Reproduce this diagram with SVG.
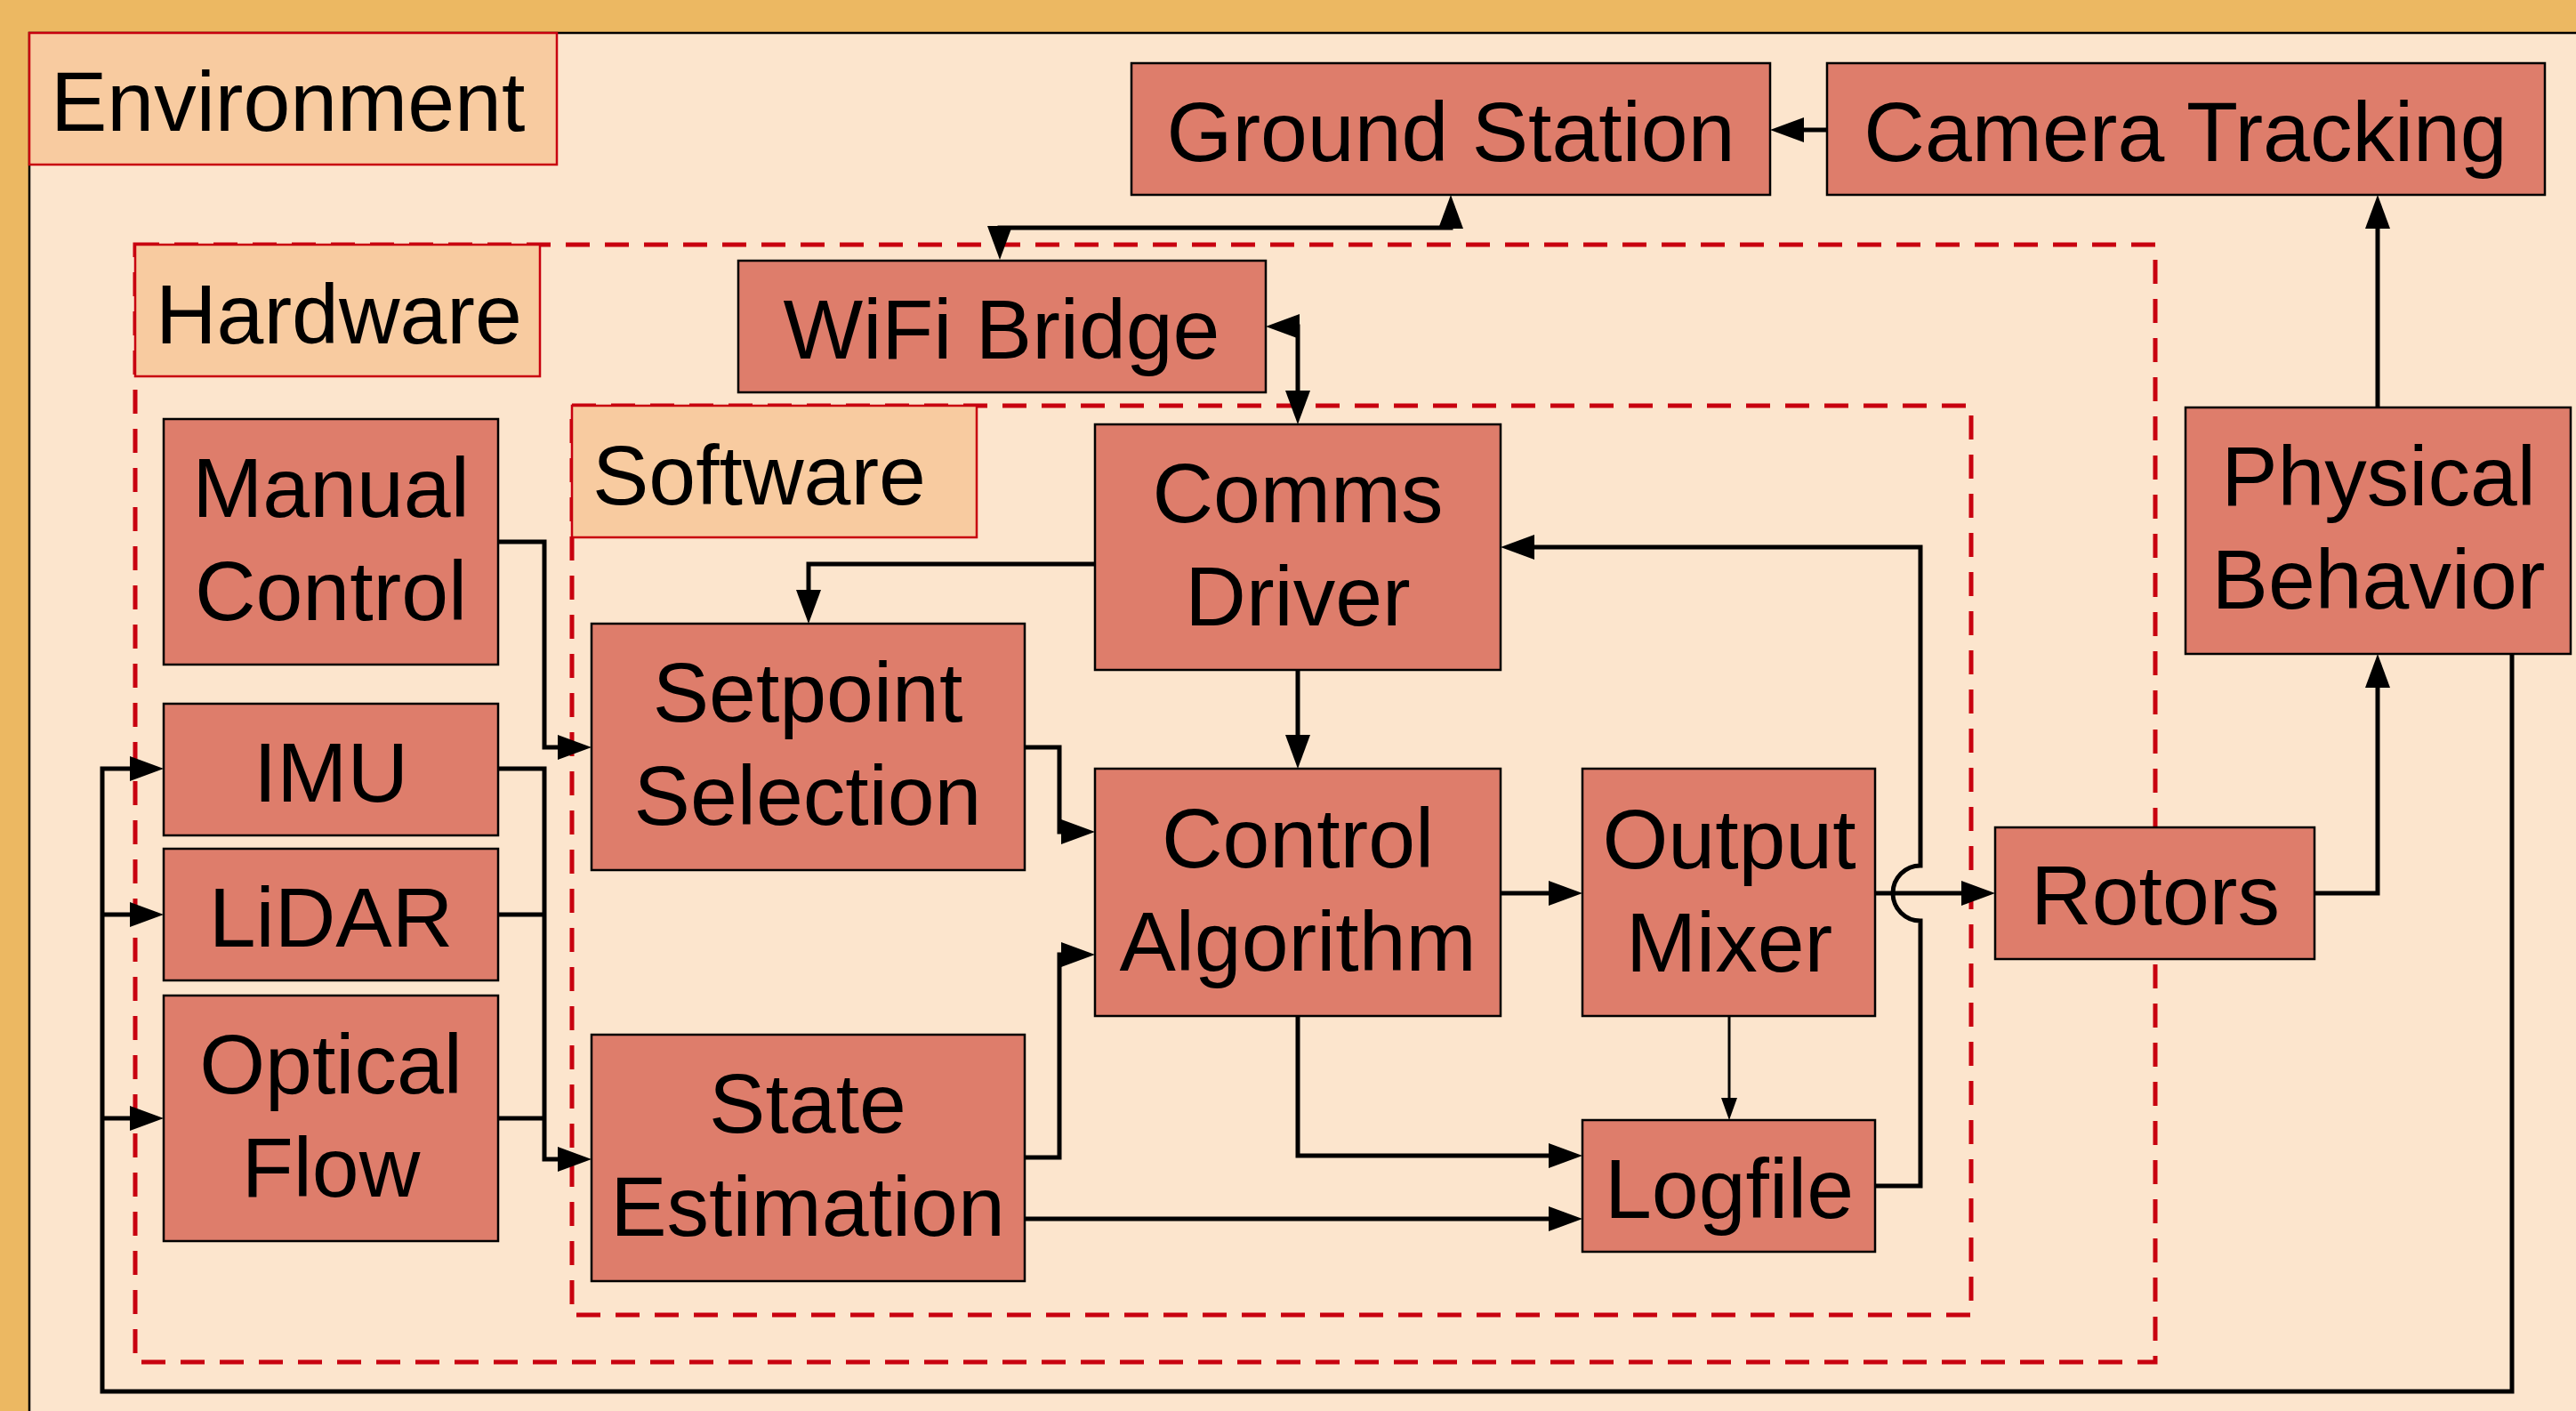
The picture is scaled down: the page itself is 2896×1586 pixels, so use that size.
<svg xmlns="http://www.w3.org/2000/svg" width="2896" height="1586" viewBox="0 0 2896 1586">
  <style>
    text { font-family: "Liberation Sans", Arial, Helvetica, sans-serif; font-size: 95px; fill: #000; }
    .node rect { fill: #DE7D6B; stroke: #000; stroke-width: 2.5; }
    .node text { text-anchor: middle; }
    .label rect { fill: #F8CBA0; stroke: #C8000F; stroke-width: 2.5; }
    .group { fill: none; stroke: #C8000F; stroke-width: 5; stroke-dasharray: 27 17; }
    .wire { fill: none; stroke: #000; stroke-width: 5; stroke-linejoin: miter; }
    .thin { fill: none; stroke: #000; stroke-width: 3; }
  </style>
  <defs>
    <marker id="arrow" markerUnits="userSpaceOnUse" markerWidth="40" markerHeight="30" refX="18" refY="14" orient="auto-start-reverse" viewBox="0 0 40 30">
      <path d="M0,0 L38,14 L0,28 Z" fill="#000"/>
    </marker>
    <marker id="arrowSmall" markerUnits="userSpaceOnUse" markerWidth="28" markerHeight="20" refX="12" refY="9" orient="auto" viewBox="0 0 28 20">
      <path d="M0,0 L25,9 L0,18 Z" fill="#000"/>
    </marker>
  </defs>

  <!-- page frame -->
  <rect x="0" y="0" width="2896" height="1586" fill="#ECB862"/>
  <rect x="33" y="37" width="2900" height="1600" fill="#FCE5CD" stroke="#000" stroke-width="2.5"/>

  <!-- grouping boxes -->
  <g id="environment-label" class="label">
    <rect x="33" y="37" width="593" height="148"/>
    <text x="57" y="147">Environment</text>
  </g>
  <rect id="hardware-group" class="group" x="152" y="275" width="2271" height="1256"/>
  <g id="hardware-label" class="label">
    <rect x="152" y="275" width="455" height="148"/>
    <text x="175" y="386">Hardware</text>
  </g>
  <rect id="software-group" class="group" x="643" y="456" width="1573" height="1022"/>
  <g id="software-label" class="label">
    <rect x="643" y="456" width="455" height="148"/>
    <text x="666" y="567">Software</text>
  </g>

  <!-- connectors -->
  <g id="connectors">
    <path class="wire" d="M2054,146 L2010,146" marker-end="url(#arrow)"/>
    <path class="wire" d="M1124,272 L1124,256 L1631,256 L1631,239" marker-start="url(#arrow)" marker-end="url(#arrow)"/>
    <path class="wire" d="M1443,367 L1459,367 L1459,457" marker-start="url(#arrow)" marker-end="url(#arrow)"/>
    <path class="wire" d="M1231,634 L909,634 L909,681" marker-end="url(#arrow)"/>
    <path class="wire" d="M1459,753 L1459,844" marker-end="url(#arrow)"/>
    <path class="wire" d="M560,609 L612,609 L612,840 L645,840" marker-end="url(#arrow)"/>
    <path class="wire" d="M560,864 L612,864 L612,1303 L645,1303" marker-end="url(#arrow)"/>
    <path class="wire" d="M560,1028 L612,1028"/>
    <path class="wire" d="M560,1257 L612,1257"/>
    <path class="wire" d="M1152,840 L1191,840 L1191,935 L1211,935" marker-end="url(#arrow)"/>
    <path class="wire" d="M1152,1301 L1191,1301 L1191,1073 L1211,1073" marker-end="url(#arrow)"/>
    <path class="wire" d="M1152,1370 L1759,1370" marker-end="url(#arrow)"/>
    <path class="wire" d="M1687,1004 L1759,1004" marker-end="url(#arrow)"/>
    <path class="wire" d="M1459,1142 L1459,1299 L1759,1299" marker-end="url(#arrow)"/>
    <path class="thin" d="M1944,1142 L1944,1246" marker-end="url(#arrowSmall)"/>
    <path class="wire" d="M2108,1004 L2223,1004" marker-end="url(#arrow)"/>
    <path class="wire" d="M2108,1333 L2159,1333 L2159,1035 A31,31 0 0 1 2159,973 L2159,615 L1707,615" marker-end="url(#arrow)"/>
    <path class="wire" d="M2602,1004 L2673,1004 L2673,755" marker-end="url(#arrow)"/>
    <path class="wire" d="M2673,458 L2673,239" marker-end="url(#arrow)"/>
    <path class="wire" d="M2824,735 L2824,1564 L115,1564 L115,864 L164,864" marker-end="url(#arrow)"/>
    <path class="wire" d="M115,1028 L164,1028" marker-end="url(#arrow)"/>
    <path class="wire" d="M115,1257 L164,1257" marker-end="url(#arrow)"/>
  </g>

  <!-- nodes -->
  <g id="ground-station" class="node">
    <rect x="1272" y="71" width="718" height="148"/>
    <text x="1631" y="181">Ground Station</text>
  </g>
  <g id="camera-tracking" class="node">
    <rect x="2054" y="71" width="807" height="148"/>
    <text x="2457" y="181">Camera Tracking</text>
  </g>
  <g id="wifi-bridge" class="node">
    <rect x="830" y="293" width="593" height="148"/>
    <text x="1126" y="403">WiFi Bridge</text>
  </g>
  <g id="manual-control" class="node">
    <rect x="184" y="471" width="376" height="276"/>
    <text x="372" y="581">Manual</text>
    <text x="372" y="697">Control</text>
  </g>
  <g id="imu" class="node">
    <rect x="184" y="791" width="376" height="148"/>
    <text x="372" y="901">IMU</text>
  </g>
  <g id="lidar" class="node">
    <rect x="184" y="954" width="376" height="148"/>
    <text x="372" y="1064">LiDAR</text>
  </g>
  <g id="optical-flow" class="node">
    <rect x="184" y="1119" width="376" height="276"/>
    <text x="372" y="1229">Optical</text>
    <text x="372" y="1345">Flow</text>
  </g>
  <g id="comms-driver" class="node">
    <rect x="1231" y="477" width="456" height="276"/>
    <text x="1459" y="587">Comms</text>
    <text x="1459" y="703">Driver</text>
  </g>
  <g id="setpoint-selection" class="node">
    <rect x="665" y="701" width="487" height="277"/>
    <text x="908" y="811">Setpoint</text>
    <text x="908" y="927">Selection</text>
  </g>
  <g id="state-estimation" class="node">
    <rect x="665" y="1163" width="487" height="277"/>
    <text x="908" y="1273">State</text>
    <text x="908" y="1389">Estimation</text>
  </g>
  <g id="control-algorithm" class="node">
    <rect x="1231" y="864" width="456" height="278"/>
    <text x="1459" y="975">Control</text>
    <text x="1459" y="1091">Algorithm</text>
  </g>
  <g id="output-mixer" class="node">
    <rect x="1779" y="864" width="329" height="278"/>
    <text x="1944" y="976">Output</text>
    <text x="1944" y="1092">Mixer</text>
  </g>
  <g id="logfile" class="node">
    <rect x="1779" y="1259" width="329" height="148"/>
    <text x="1944" y="1369">Logfile</text>
  </g>
  <g id="rotors" class="node">
    <rect x="2243" y="930" width="359" height="148"/>
    <text x="2423" y="1039">Rotors</text>
  </g>
  <g id="physical-behavior" class="node">
    <rect x="2457" y="458" width="433" height="277"/>
    <text x="2674" y="568">Physical</text>
    <text x="2674" y="684">Behavior</text>
  </g>
</svg>
